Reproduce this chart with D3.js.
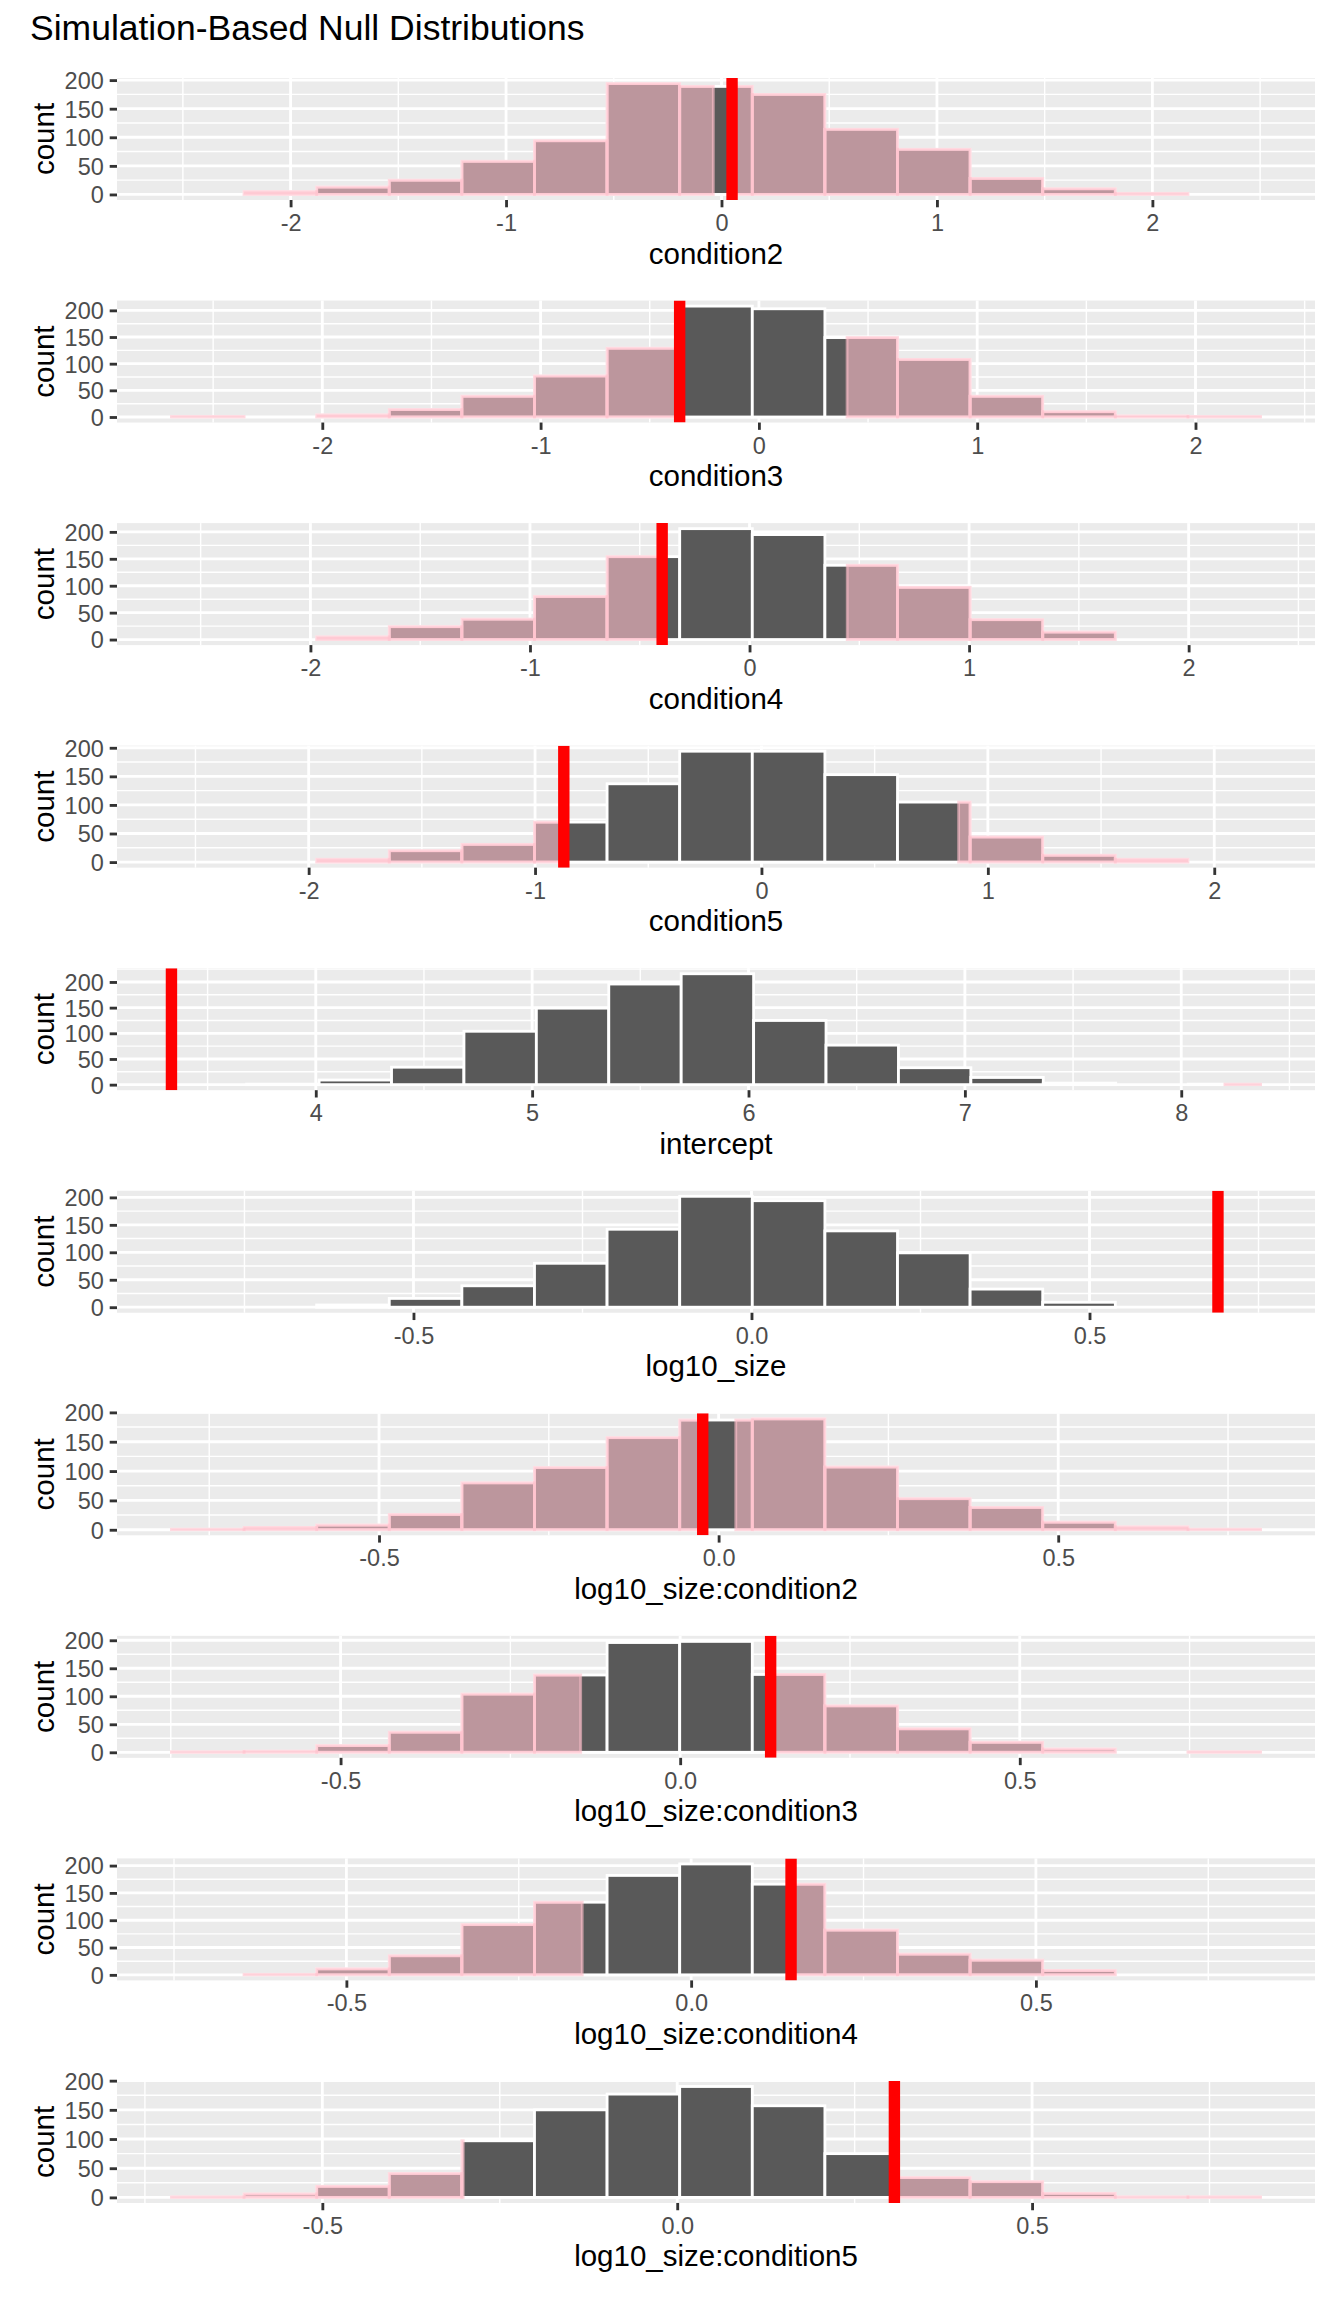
<html>
  <head>
    <meta charset="UTF-8" />
    <title>Simulation-Based Null Distributions</title>
    <script src="https://d3js.org/d3.v7.min.js"></script>
    <style>
      body { margin: 0; background: #fff; }
      text { font-family: "Liberation Sans", Arial, sans-serif; }
    </style>
  </head>
  <body>
    <div id="chart"></div>
    <script>
      // terms, one facet each (top to bottom)
      const terms = ["condition2", "condition3", "condition4", "condition5", "intercept",
        "log10_size", "log10_size:condition2", "log10_size:condition3",
        "log10_size:condition4", "log10_size:condition5"];

      // 15 bins per term: left edge of first bin and bin width
      const binStart = [-2.553, -2.691, -2.633, -2.606, 3.346, -0.858, -0.8056, -0.749, -0.7537, -0.7126];
      const binWidth = [0.337, 0.3326, 0.3307, 0.3207, 0.3347, 0.1074, 0.1069, 0.1069, 0.1053, 0.1023];

      // bin counts
      const countsCondition2 = [0, 5, 13, 25, 58, 94, 194, 189, 175, 114, 79, 28, 10, 2, 0];
      const countsCondition3 = [1, 0, 4, 14, 39, 77, 129, 208, 203, 149, 108, 39, 10, 2, 1];
      const countsCondition4 = [0, 0, 5, 24, 38, 80, 154, 206, 195, 138, 97, 37, 14, 0, 0];
      const countsCondition5 = [0, 0, 5, 20, 31, 70, 137, 194, 194, 153, 105, 44, 12, 5, 0];
      const countsIntercept = [0, 1, 9, 34, 104, 149, 196, 216, 125, 77, 33, 14, 3, 0, 1];
      const countsLogSize = [0, 0, 4, 16, 39, 80, 142, 202, 194, 139, 99, 33, 9, 0, 0];
      const countsLogSizeCond2 = [1, 4, 8, 26, 80, 106, 157, 187, 189, 107, 53, 38, 13, 5, 1];
      const countsLogSizeCond3 = [1, 2, 12, 36, 104, 138, 196, 198, 139, 83, 42, 18, 6, 0, 1];
      const countsLogSizeCond4 = [0, 1, 11, 35, 92, 133, 182, 203, 166, 82, 38, 27, 8, 0, 0];
      const countsLogSizeCond5 = [1, 6, 19, 41, 97, 150, 177, 190, 157, 75, 34, 27, 7, 1, 1];
      const counts = [countsCondition2, countsCondition3, countsCondition4, countsCondition5,
        countsIntercept, countsLogSize, countsLogSizeCond2, countsLogSizeCond3,
        countsLogSizeCond4, countsLogSizeCond5];

      // observed statistic (red line) and the unshaded interval (two-sided p-value)
      const obsStat = [0.049, -0.363, -0.398, -0.873, 3.333, 0.690, -0.0234, 0.1332, 0.1449, 0.306];
      const keepLo = [-0.038, -0.363, -0.398, -0.873, 3.333, -0.690, -0.0234, -0.1465, -0.158, -0.3015];
      const keepHi = [0.049, 0.404, 0.445, 0.871, 8.202, 0.690, 0.0253, 0.1332, 0.1449, 0.306];

      // x tick labels
      const ticksWide = ["-2", "-1", "0", "1", "2"];
      const ticksIntercept = ["4", "5", "6", "7", "8"];
      const ticksNarrow = ["-0.5", "0.0", "0.5"];
      const xTickLabels = [ticksWide, ticksWide, ticksWide, ticksWide, ticksIntercept,
        ticksNarrow, ticksNarrow, ticksNarrow, ticksNarrow, ticksNarrow];
      const yTicks = [0, 50, 100, 150, 200];

      const fullWidth = 1344, fullHeight = 2304;
      const left = 117, right = 1315;
      const top0 = 78, step = 222.55, panelH = 122;
      const lw = 2.84;

      const svg = d3.select("#chart").append("svg")
        .attr("width", fullWidth).attr("height", fullHeight);

      svg.append("text").attr("x", 30).attr("y", 40)
        .style("font-size", "35.5px").attr("fill", "#000")
        .text("Simulation-Based Null Distributions");

      terms.forEach(function (term, i) {
        const top = top0 + i * step, bottom = top + panelH;
        const c = counts[i];
        const edges = d3.range(c.length + 1).map(j => binStart[i] + j * binWidth[i]);
        const bins = c.map((n, j) => ({ x0: edges[j], x1: edges[j + 1], n: n }));
        let lo = Math.min(edges[0], obsStat[i]), hi = Math.max(edges[edges.length - 1], obsStat[i]);
        const pad = (hi - lo) * 0.05;
        const x = d3.scaleLinear().domain([lo - pad, hi + pad]).range([left, right]);
        const ymax = d3.max(c);
        const y = d3.scaleLinear().domain([-0.05 * ymax, 1.05 * ymax]).range([bottom, top]);

        const g = svg.append("g");
        const clipId = "clip" + i;
        g.append("clipPath").attr("id", clipId).append("rect")
          .attr("x", left).attr("y", top).attr("width", right - left).attr("height", panelH);

        g.append("rect").attr("x", left).attr("y", top)
          .attr("width", right - left).attr("height", panelH).attr("fill", "#EBEBEB");

        const tickVals = xTickLabels[i].map(Number);
        const s = tickVals[1] - tickVals[0];
        const [d0, d1] = x.domain();
        const xMinor = d3.range(tickVals.length + 1).map(k => tickVals[0] - s / 2 + k * s)
          .filter(v => v > d0 && v < d1);
        const yMinor = [25, 75, 125, 175, 225].filter(v => v < 1.05 * ymax);

        const grid = g.append("g").attr("stroke", "#fff");
        grid.selectAll(".xm").data(xMinor).join("line")
          .attr("x1", d => x(d)).attr("x2", d => x(d)).attr("y1", top).attr("y2", bottom)
          .attr("stroke-width", lw / 2);
        grid.selectAll(".ym").data(yMinor).join("line")
          .attr("x1", left).attr("x2", right).attr("y1", d => y(d)).attr("y2", d => y(d))
          .attr("stroke-width", lw / 2);
        grid.selectAll(".xM").data(tickVals).join("line")
          .attr("x1", d => x(d)).attr("x2", d => x(d)).attr("y1", top).attr("y2", bottom)
          .attr("stroke-width", lw);
        grid.selectAll(".yM").data(yTicks).join("line")
          .attr("x1", left).attr("x2", right).attr("y1", d => y(d)).attr("y2", d => y(d))
          .attr("stroke-width", lw);

        const plot = g.append("g").attr("clip-path", "url(#" + clipId + ")");
        plot.selectAll("rect.bar").data(bins).join("rect").attr("class", "bar")
          .attr("x", d => x(d.x0)).attr("width", d => x(d.x1) - x(d.x0))
          .attr("y", d => y(d.n)).attr("height", d => y(0) - y(d.n))
          .attr("fill", "#595959").attr("stroke", "#fff").attr("stroke-width", lw);

        // shaded tails, clipped to the region outside [keepLo, keepHi]
        const shade = [];
        bins.forEach(function (b) {
          if (b.n <= 0) return;
          if (b.x0 < keepLo[i]) shade.push({ x0: b.x0, x1: Math.min(b.x1, keepLo[i]), n: b.n });
          if (b.x1 > keepHi[i]) shade.push({ x0: Math.max(b.x0, keepHi[i]), x1: b.x1, n: b.n });
        });
        plot.selectAll("rect.shade").data(shade).join("rect").attr("class", "shade")
          .attr("x", d => x(d.x0)).attr("width", d => x(d.x1) - x(d.x0))
          .attr("y", d => y(d.n)).attr("height", d => y(0) - y(d.n))
          .attr("fill", "pink").attr("fill-opacity", 0.6)
          .attr("stroke", "pink").attr("stroke-opacity", 0.6).attr("stroke-width", lw);

        plot.append("line")
          .attr("x1", x(obsStat[i])).attr("x2", x(obsStat[i]))
          .attr("y1", top).attr("y2", bottom)
          .attr("stroke", "red").attr("stroke-width", 11.4);

        const xAxis = d3.axisBottom(x).tickValues(tickVals)
          .tickFormat((d, k) => xTickLabels[i][k]).tickSize(7.3).tickPadding(5.9);
        const ax = g.append("g").attr("transform", "translate(0," + bottom + ")").call(xAxis);
        ax.select(".domain").remove();
        ax.selectAll("line").attr("stroke", "#333").attr("stroke-width", lw);
        ax.selectAll("text").attr("fill", "#4D4D4D").style("font-size", "23.5px")
          .attr("dy", null).attr("y", 31);

        const yAxis = d3.axisLeft(y).tickValues(yTicks).tickSize(7.3).tickPadding(5.9);
        const ay = g.append("g").attr("transform", "translate(" + left + ",0)").call(yAxis);
        ay.select(".domain").remove();
        ay.selectAll("line").attr("stroke", "#333").attr("stroke-width", lw);
        ay.selectAll("text").attr("fill", "#4D4D4D").style("font-size", "23.5px")
          .attr("dy", null).attr("y", 8.4);

        g.append("text")
          .attr("transform", "translate(53.5," + (top + panelH / 2) + ") rotate(-90)")
          .attr("text-anchor", "middle").style("font-size", "29.5px").attr("fill", "#000")
          .text("count");

        g.append("text").attr("x", (left + right) / 2).attr("y", bottom + 63.5)
          .attr("text-anchor", "middle").style("font-size", "29.5px").attr("fill", "#000")
          .text(term);
      });
    </script>
  </body>
</html>
